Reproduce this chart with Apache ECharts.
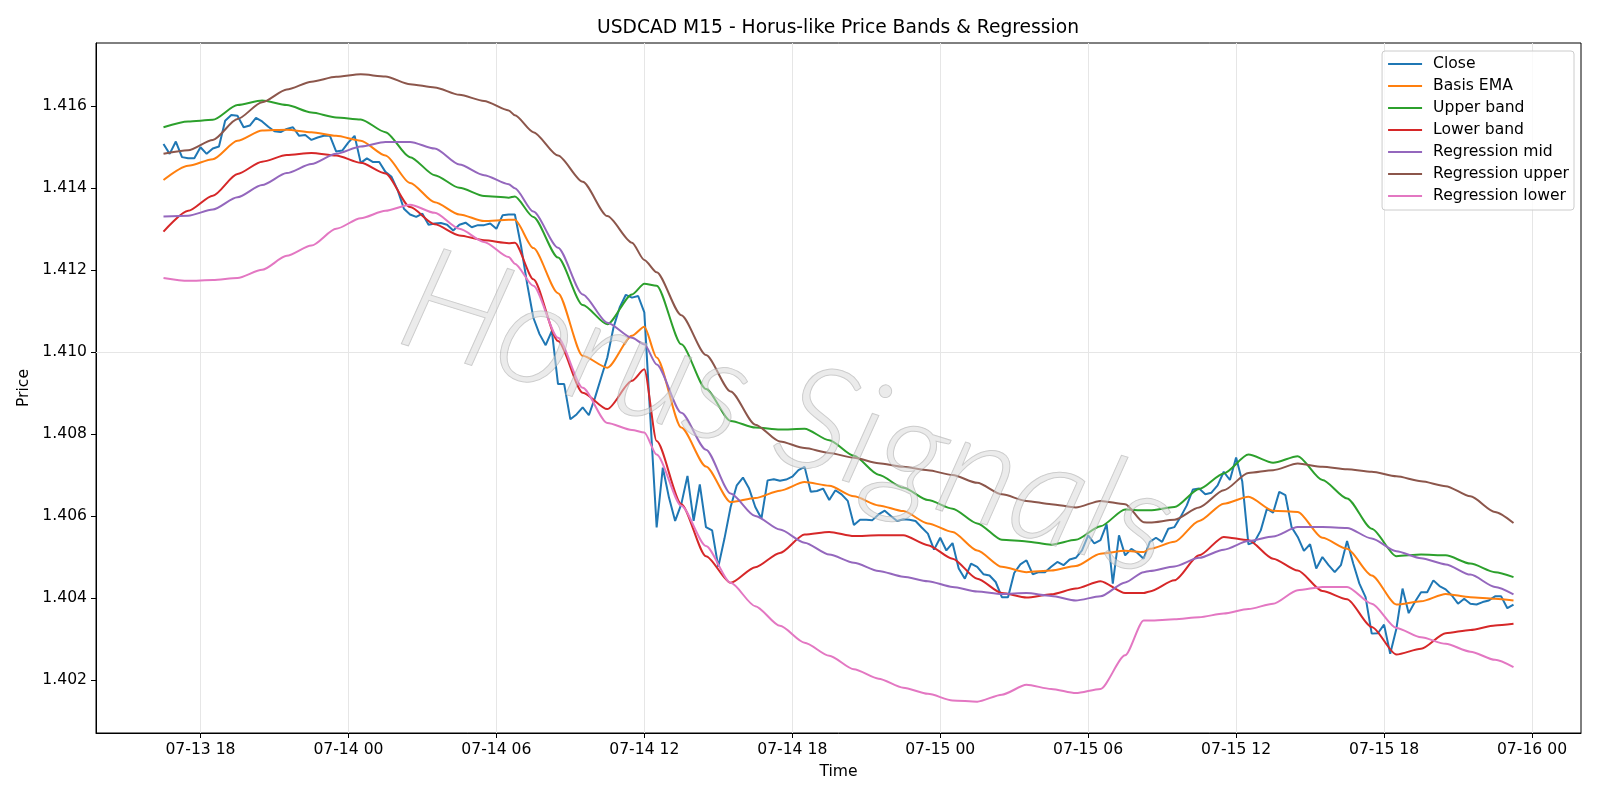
<!DOCTYPE html>
<html>
<head>
<meta charset="utf-8">
<title>USDCAD M15 - Horus-like Price Bands & Regression</title>
<script src="https://cdn.jsdelivr.net/npm/echarts@6/dist/echarts.min.js"></script>
<style>
    html, body { margin: 0; padding: 0; background: #ffffff; }
    #chart { width: 1600px; height: 800px; }
</style>
</head>
<body>
<div id="chart"></div>
<script>
    // time is in hours from 07-13 00:00, one bar every 15 minutes
    const startHour = 16.5;
    const barHours = 0.25;

    const closePrices = [
        1.41508, 1.41484, 1.41514, 1.41476, 1.41473, 1.41473, 1.41500, 1.41484, 1.41497, 1.41502,
        1.41565, 1.41579, 1.41577, 1.41549, 1.41553, 1.41572, 1.41563, 1.41550, 1.41539, 1.41537,
        1.41545, 1.41549, 1.41528, 1.41530, 1.41518, 1.41524, 1.41528, 1.41528, 1.41490, 1.41492,
        1.41512, 1.41528, 1.41462, 1.41473,
        1.41464, 1.41464, 1.41440, 1.41428, 1.41395, 1.41350, 1.41336, 1.41330, 1.41338, 1.41311,
        1.41314, 1.41315, 1.41311, 1.41297, 1.41311, 1.41316, 1.41305, 1.41310, 1.41310, 1.41314,
        1.41301, 1.41334, 1.41336, 1.41336,
        1.41259, 1.41166, 1.41084, 1.41044, 1.41017, 1.41052, 1.40922, 1.40922, 1.40836, 1.40848,
        1.40865, 1.40846, 1.40889, 1.40938, 1.40987, 1.41060, 1.41109, 1.41140, 1.41133, 1.41137,
        1.41097, 1.40834, 1.40572, 1.40718, 1.40645, 1.40588, 1.40629, 1.40698, 1.40588, 1.40677,
        1.40573, 1.40565, 1.40476, 1.40545, 1.40622, 1.40675, 1.40694, 1.40667, 1.40622, 1.40594,
        1.40687, 1.40690, 1.40686, 1.40689, 1.40696, 1.40712, 1.40720, 1.40659, 1.40661, 1.40667,
        1.40639, 1.40663, 1.40653, 1.40637, 1.40578, 1.40591, 1.40591, 1.40590, 1.40604, 1.40613,
        1.40600, 1.40588, 1.40592, 1.40591,
        1.40588, 1.40572, 1.40557, 1.40518, 1.40547, 1.40516, 1.40534, 1.40472, 1.40447, 1.40484,
        1.40476, 1.40458, 1.40455, 1.40439, 1.40402, 1.40402, 1.40461, 1.40482, 1.40492, 1.40458,
        1.40463, 1.40463, 1.40476, 1.40488, 1.40480, 1.40494, 1.40498, 1.40516, 1.40553, 1.40533,
        1.40541, 1.40580,
        1.40435, 1.40553, 1.40504, 1.40520, 1.40510, 1.40496, 1.40537, 1.40547, 1.40537, 1.40569,
        1.40573, 1.40598, 1.40626, 1.40665, 1.40667, 1.40653, 1.40657, 1.40675, 1.40708, 1.40688,
        1.40743, 1.40684, 1.40531, 1.40537, 1.40565, 1.40618, 1.40608, 1.40659, 1.40651, 1.40573,
        1.40549,
        1.40515, 1.40531, 1.40472, 1.40500, 1.40480, 1.40463, 1.40480, 1.40539, 1.40484, 1.40435,
        1.40402, 1.40313, 1.40314, 1.40335, 1.40264, 1.40325, 1.40423, 1.40363, 1.40390, 1.40414,
        1.40414, 1.40443, 1.40429, 1.40421, 1.40406, 1.40386, 1.40398, 1.40386, 1.40384, 1.40390,
        1.40394, 1.40404, 1.40404, 1.40375, 1.40384
    ];

    // the smoother lines are read at these bars only
    const smoothBars = [
        0, 4, 8, 12, 16, 20, 24, 28, 32, 36, 40, 44, 48, 52, 56, 57, 60, 64, 68, 72, 76, 78,
        80, 84, 88, 92, 96, 100, 104, 108, 112, 116, 120, 124, 128, 132, 136, 140, 144, 148, 152, 156, 159,
        160, 164, 168, 172, 176, 180, 184, 188, 192, 196, 200, 204, 208, 212, 216, 219
    ];

    const basisEma = [
        1.41420, 1.41455, 1.41471, 1.41516, 1.41541, 1.41543, 1.41537, 1.41528, 1.41516,
        1.41480, 1.41413, 1.41366, 1.41336, 1.41320, 1.41323, 1.41323,
        1.41254, 1.41144, 1.40991, 1.40962, 1.41040, 1.41062, 1.40987, 1.40816,
        1.40721, 1.40634, 1.40644, 1.40662, 1.40683, 1.40674, 1.40648, 1.40626, 1.40612,
        1.40582, 1.40561, 1.40516, 1.40476, 1.40463, 1.40467, 1.40478, 1.40508, 1.40515, 1.40512,
        1.40520, 1.40537, 1.40588, 1.40630, 1.40647, 1.40613, 1.40610,
        1.40547, 1.40520, 1.40455, 1.40384, 1.40392, 1.40410, 1.40402, 1.40398, 1.40394
    ];

    const upperBand = [
        1.41549, 1.41563, 1.41567, 1.41603, 1.41614, 1.41603, 1.41585, 1.41573, 1.41568,
        1.41537, 1.41476, 1.41432, 1.41401, 1.41381, 1.41377, 1.41380,
        1.41330, 1.41231, 1.41115, 1.41068, 1.41141, 1.41167, 1.41162, 1.41019,
        1.40910, 1.40832, 1.40816, 1.40811, 1.40813, 1.40785, 1.40747, 1.40701, 1.40669,
        1.40639, 1.40618, 1.40582, 1.40542, 1.40538, 1.40530, 1.40542, 1.40575, 1.40616, 1.40614,
        1.40614, 1.40622, 1.40666, 1.40704, 1.40750, 1.40730, 1.40746,
        1.40688, 1.40643, 1.40569, 1.40502, 1.40506, 1.40504, 1.40484, 1.40463, 1.40451
    ];

    const lowerBand = [
        1.41294, 1.41345, 1.41382, 1.41435, 1.41465, 1.41481, 1.41486, 1.41480, 1.41462,
        1.41436, 1.41354, 1.41312, 1.41285, 1.41273, 1.41266, 1.41267,
        1.41178, 1.41027, 1.40901, 1.40861, 1.40930, 1.40958, 1.40783, 1.40629,
        1.40502, 1.40437, 1.40475, 1.40510, 1.40555, 1.40561, 1.40551, 1.40553, 1.40553,
        1.40529, 1.40496, 1.40447, 1.40412, 1.40401, 1.40409, 1.40423, 1.40441, 1.40412, 1.40412,
        1.40416, 1.40443, 1.40504, 1.40549, 1.40541, 1.40496, 1.40467,
        1.40417, 1.40397, 1.40329, 1.40262, 1.40276, 1.40314, 1.40322, 1.40333, 1.40337
    ];

    const regMid = [
        1.41331, 1.41333, 1.41348, 1.41378, 1.41408, 1.41437, 1.41459, 1.41484, 1.41502,
        1.41513, 1.41513, 1.41497, 1.41458, 1.41432, 1.41410, 1.41400,
        1.41343, 1.41255, 1.41141, 1.41072, 1.41035, 1.41019, 1.40970, 1.40852,
        1.40762, 1.40655, 1.40600, 1.40567, 1.40535, 1.40506, 1.40486, 1.40466, 1.40452,
        1.40441, 1.40427, 1.40416, 1.40410, 1.40412, 1.40405, 1.40394, 1.40404, 1.40438, 1.40463,
        1.40466, 1.40477, 1.40498, 1.40518, 1.40539, 1.40550, 1.40573,
        1.40573, 1.40571, 1.40545, 1.40514, 1.40497, 1.40482, 1.40457, 1.40427, 1.40409
    ];

    const regUpper = [
        1.41484, 1.41493, 1.41518, 1.41569, 1.41610, 1.41641, 1.41660, 1.41672, 1.41678,
        1.41673, 1.41654, 1.41646, 1.41628, 1.41613, 1.41590, 1.41578,
        1.41537, 1.41480, 1.41416, 1.41332, 1.41267, 1.41225, 1.41195, 1.41090,
        1.40993, 1.40904, 1.40823, 1.40782, 1.40766, 1.40754, 1.40742, 1.40729, 1.40720,
        1.40712, 1.40700, 1.40681, 1.40653, 1.40637, 1.40629, 1.40621, 1.40637, 1.40629, 1.40585,
        1.40584, 1.40591, 1.40621, 1.40663, 1.40705, 1.40712, 1.40728,
        1.40720, 1.40714, 1.40708, 1.40697, 1.40685, 1.40673, 1.40648, 1.40610, 1.40583
    ];

    const regLower = [
        1.41181, 1.41174, 1.41176, 1.41181, 1.41201, 1.41235, 1.41260, 1.41301, 1.41327,
        1.41345, 1.41360, 1.41340, 1.41301, 1.41269, 1.41232, 1.41216,
        1.41162, 1.41035, 1.40913, 1.40827, 1.40810, 1.40804, 1.40750, 1.40625,
        1.40527, 1.40437, 1.40380, 1.40332, 1.40291, 1.40259, 1.40226, 1.40203, 1.40181,
        1.40166, 1.40150, 1.40147, 1.40164, 1.40188, 1.40178, 1.40168, 1.40178, 1.40260, 1.40345,
        1.40345, 1.40348, 1.40353, 1.40362, 1.40373, 1.40386, 1.40419,
        1.40427, 1.40427, 1.40386, 1.40327, 1.40304, 1.40288, 1.40269, 1.40249, 1.40231
    ];

    const xTicks = [18, 24, 30, 36, 42, 48, 54, 60, 66, 72];
    const yTicks = [1.402, 1.404, 1.406, 1.408, 1.410, 1.412, 1.414, 1.416];

    const font = 'DejaVu Sans';
    const fontSize = 15.6;

    function timeLabel(h) {
        const day = 13 + Math.floor(h / 24);
        const hour = Math.round(h % 24);
        return '07-' + day + ' ' + String(hour).padStart(2, '0');
    }

    // 5% padding on each side, like matplotlib's autoscale
    const padMin = v => v.min - 0.05 * (v.max - v.min);
    const padMax = v => v.max + 0.05 * (v.max - v.min);

    function lineSeries(name, color, points, smooth) {
        return {
            name: name,
            type: 'line',
            data: points,
            symbol: 'none',
            smooth: smooth,
            smoothMonotone: 'x',
            z: 3,
            lineStyle: { color: color, width: 2 },
            itemStyle: { color: color },
            emphasis: { disabled: true }
        };
    }

    const closeData = closePrices.map((v, i) => [startHour + i * barHours, v]);
    const smooth = arr => smoothBars.map((b, j) => [startHour + b * barHours, arr[j]]);

    const chart = echarts.init(document.getElementById('chart'));

    const option = {
        animation: false,
        backgroundColor: '#ffffff',
        textStyle: { fontFamily: font },
        title: {
            text: 'USDCAD M15 - Horus-like Price Bands & Regression',
            left: 838,
            top: 19,
            textAlign: 'center',
            padding: 0,
            textStyle: { fontFamily: font, fontSize: 18.7, fontWeight: 'normal', color: '#000' }
        },
        legend: {
            data: ['Close', 'Basis EMA', 'Upper band', 'Lower band', 'Regression mid', 'Regression upper', 'Regression lower'],
            orient: 'vertical',
            right: 26,
            top: 51,
            padding: [4, 5, 5, 6],
            icon: 'rect',
            itemWidth: 34,
            itemHeight: 2,
            itemGap: 4,
            backgroundColor: 'rgba(255,255,255,0.8)',
            borderColor: '#cccccc',
            borderWidth: 1,
            borderRadius: 3,
            textStyle: { fontFamily: font, fontSize: fontSize, color: '#000', lineHeight: 18, padding: [0, 0, 0, 6] }
        },
        grid: {
            left: 96,
            right: 19,
            top: 43,
            bottom: 67,
            show: true,
            borderColor: '#000',
            borderWidth: 1
        },
        xAxis: {
            type: 'value',
            min: padMin,
            max: padMax,
            name: 'Time',
            nameLocation: 'middle',
            nameGap: 31,
            nameTextStyle: { fontFamily: font, fontSize: fontSize, color: '#000' },
            axisLine: { show: true, lineStyle: { color: '#000', width: 1 } },
            axisTick: { show: true, length: 5, customValues: xTicks, lineStyle: { color: '#000' } },
            axisLabel: {
                customValues: xTicks,
                formatter: timeLabel,
                margin: 9,
                fontFamily: font,
                fontSize: fontSize,
                color: '#000'
            },
            splitLine: { show: false }
        },
        yAxis: {
            type: 'value',
            min: padMin,
            max: padMax,
            name: 'Price',
            nameLocation: 'middle',
            nameRotate: 90,
            nameGap: 60,
            nameTextStyle: { fontFamily: font, fontSize: fontSize, color: '#000' },
            axisLine: { show: true, lineStyle: { color: '#000', width: 1 } },
            axisTick: { show: true, length: 5, customValues: yTicks, lineStyle: { color: '#000' } },
            axisLabel: {
                customValues: yTicks,
                formatter: v => v.toFixed(3),
                margin: 9,
                fontFamily: font,
                fontSize: fontSize,
                color: '#000'
            },
            splitLine: { show: false }
        },
        graphic: [{
            // watermark
            type: 'text',
            x: 788,
            y: 414,
            rotation: -0.3,
            z: 100,
            silent: true,
            style: {
                text: 'Horus Signals',
                x: 0,
                y: 0,
                align: 'center',
                verticalAlign: 'middle',
                font: 'italic 300 146px Lato',
                fill: 'rgba(215,215,215,0.5)',
                stroke: 'rgba(150,150,150,0.5)',
                lineWidth: 1
            }
        }],
        series: [
            {
                // grid lines, placed on the tick values
                name: 'grid',
                type: 'line',
                data: [],
                z: 1,
                markLine: {
                    silent: true,
                    symbol: 'none',
                    z: 1,
                    label: { show: false },
                    lineStyle: { color: '#e6e6e6', width: 1, type: 'solid' },
                    emphasis: { disabled: true },
                    data: xTicks.map(v => ({ xAxis: v })).concat(yTicks.map(v => ({ yAxis: v })))
                }
            },
            lineSeries('Close', '#1f77b4', closeData, false),
            lineSeries('Basis EMA', '#ff7f0e', smooth(basisEma), 0.25),
            lineSeries('Upper band', '#2ca02c', smooth(upperBand), 0.25),
            lineSeries('Lower band', '#d62728', smooth(lowerBand), 0.25),
            lineSeries('Regression mid', '#9467bd', smooth(regMid), 0.25),
            lineSeries('Regression upper', '#8c564b', smooth(regUpper), 0.25),
            lineSeries('Regression lower', '#e377c2', smooth(regLower), 0.25)
        ]
    };

    chart.setOption(option);
</script>
</body>
</html>
